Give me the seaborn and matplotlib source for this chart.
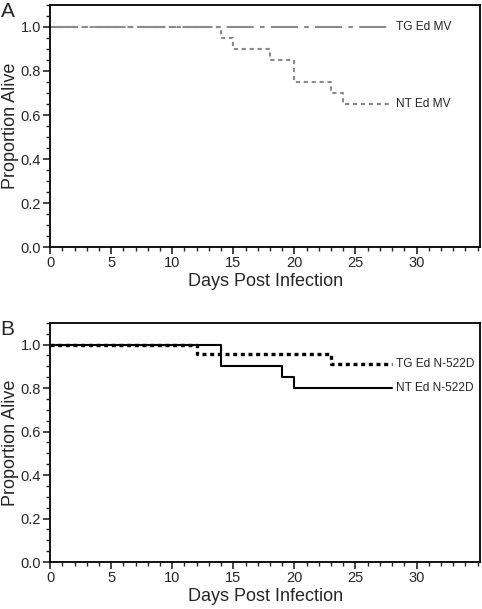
import matplotlib
matplotlib.use("Agg")
import matplotlib.pyplot as plt
from matplotlib.ticker import MultipleLocator
import seaborn as sns
import pandas as pd

# panel A
days_tg_mv = [0, 28]
alive_tg_mv = [1.0, 1.0]
days_nt_mv = [0, 14, 15, 18, 20, 23, 24, 28]
alive_nt_mv = [1.0, 0.95, 0.90, 0.85, 0.75, 0.70, 0.65, 0.65]

# panel B
days_tg_n = [0, 12, 23, 28]
alive_tg_n = [1.0, 0.955, 0.909, 0.909]
days_nt_n = [0, 14, 19, 20, 28]
alive_nt_n = [1.0, 0.90, 0.85, 0.80, 0.80]

sns.set_style("ticks")
plt.rcParams['font.family'] = ['Liberation Sans', 'DejaVu Sans']

fig = plt.figure(figsize=(4.82, 6.09), dpi=100)
axA = fig.add_axes([0.104, 0.594, 0.892, 0.398])
axB = fig.add_axes([0.104, 0.077, 0.892, 0.393])


def step(ax, x, y, label, **kw):
    df = pd.DataFrame({'day': x, 'alive': y})
    sns.lineplot(data=df, x='day', y='alive', ax=ax, drawstyle='steps-post',
                 estimator=None, **kw)
    ax.text(x[-1] + 0.3, y[-1], label, fontsize=8.6, va='center', ha='left')


def style(ax, letter):
    ax.set_xlim(0, 35.2)
    ax.set_ylim(0, 1.1)
    ax.xaxis.set_minor_locator(MultipleLocator(1))
    ax.yaxis.set_minor_locator(MultipleLocator(0.05))
    ax.set_xticks([0, 5, 10, 15, 20, 25, 30])
    ax.set_yticks([0.0, 0.2, 0.4, 0.6, 0.8, 1.0])
    ax.set_yticklabels(['0.0', '0.2', '0.4', '0.6', '0.8', '1.0'])
    ax.tick_params(which='major', direction='out', length=5, width=1.2, labelsize=10.5, pad=1.5)
    ax.tick_params(which='minor', direction='out', length=3, width=1)
    for s in ax.spines.values():
        s.set_linewidth(1.3)
        s.set_color('black')
    ax.set_xlabel('Days Post Infection', fontsize=13, labelpad=2)
    ax.set_ylabel('Proportion Alive', fontsize=13, labelpad=1.5)
    ax.text(-0.115, 1.01, letter, transform=ax.transAxes, fontsize=15, va='top', ha='left')


step(axA, days_tg_mv, alive_tg_mv, 'TG Ed MV', color='#8a8a8a', linewidth=1.5,
     dashes=(13, 3, 2.2, 3))
step(axA, days_nt_mv, alive_nt_mv, 'NT Ed MV', color='#8a8a8a', linewidth=1.5,
     dashes=(2, 1.8))
style(axA, 'A')

step(axB, days_tg_n, alive_tg_n, 'TG Ed N-522D', color='black', linewidth=2.4,
     dashes=(1.2, 1.1))
step(axB, days_nt_n, alive_nt_n, 'NT Ed N-522D', color='black', linewidth=1.5)
style(axB, 'B')

fig.savefig('out.png', dpi=100)
